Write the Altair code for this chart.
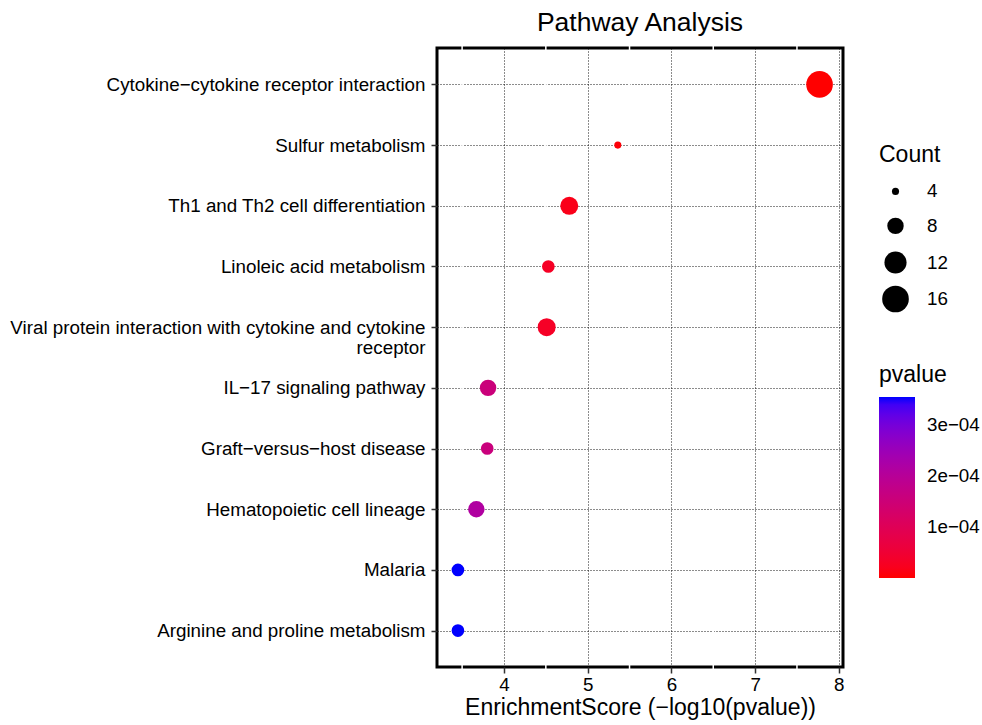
import altair as alt
import pandas as pd

pathways = [
    "Cytokine−cytokine receptor interaction",
    "Sulfur metabolism",
    "Th1 and Th2 cell differentiation",
    "Linoleic acid metabolism",
    "Viral protein interaction with cytokine and cytokine receptor",
    "IL−17 signaling pathway",
    "Graft−versus−host disease",
    "Hematopoietic cell lineage",
    "Malaria",
    "Arginine and proline metabolism",
]
scores = [7.77, 5.36, 4.78, 4.53, 4.51, 3.81, 3.80, 3.67, 3.45, 3.45]
counts = [16, 4, 9, 6, 9, 8, 6, 8, 6, 6]
pvalues = [1.7e-8, 4.4e-6, 1.66e-5, 2.95e-5, 3.09e-5, 1.55e-4, 1.58e-4, 2.14e-4, 3.55e-4, 3.55e-4]

x_ticks = [4, 5, 6, 7, 8]
x_minor = [3.5, 4.5, 5.5, 6.5, 7.5]
count_breaks = [4, 8, 12, 16]
p_breaks = [1e-4, 2e-4, 3e-4]

df = pd.DataFrame({"Pathway": pathways, "Score": scores, "Count": counts, "pvalue": pvalues})
minor_df = pd.DataFrame({"m": x_minor})

FONT = "Liberation Sans"
GRID = "#000000"

x_scale = alt.Scale(domain=[3.2, 8.05], nice=False, zero=False)

label_expr = (
    "datum.label == 'Viral protein interaction with cytokine and cytokine receptor' ? "
    "['Viral protein interaction with cytokine and cytokine', 'receptor'] : datum.label"
)

points = alt.Chart(df).mark_circle(opacity=1).encode(
    x=alt.X(
        "Score:Q",
        scale=x_scale,
        axis=alt.Axis(
            values=x_ticks,
            format="d",
            title="EnrichmentScore (−log10(pvalue))",
            grid=True,
            gridColor=GRID,
            gridOpacity=0.9,
            gridDash=[1, 2],
            gridWidth=1,
            tickColor="#333333",
            tickSize=6,
            tickWidth=1.5,
            domain=False,
            labelFontSize=18.8,
            labelColor="#000000",
            labelPadding=2,
            titleFontSize=23,
            titleFontWeight="normal",
            titleColor="#000000",
            titlePadding=3,
            labelFont=FONT,
            titleFont=FONT,
        ),
    ),
    y=alt.Y(
        "Pathway:N",
        sort=pathways,
        scale=alt.Scale(type="point", padding=0.6),
        axis=alt.Axis(
            title=None,
            grid=True,
            gridColor=GRID,
            gridOpacity=0.9,
            gridDash=[1, 2],
            gridWidth=1,
            tickColor="#333333",
            tickSize=6,
            tickWidth=1.5,
            domain=False,
            labelFontSize=18.8,
            labelColor="#000000",
            labelPadding=6,
            labelLimit=600,
            labelLineHeight=20,
            labelExpr=label_expr,
            labelFont=FONT,
        ),
    ),
    size=alt.Size(
        "Count:Q",
        scale=alt.Scale(domain=[4, 16], range=[50, 710], zero=False),
        legend=alt.Legend(
            title="Count",
            values=count_breaks,
            orient="none",
            legendX=442,
            legendY=96,
            symbolFillColor="black",
            symbolStrokeColor="black",
            symbolStrokeWidth=0,
            symbolOpacity=1,
            labelFontSize=18.8,
            labelColor="#000000",
            titleFontSize=23,
            titleFontWeight="normal",
            titleColor="#000000",
            titlePadding=15,
            labelOffset=18,
            rowPadding=7.5,
            gridAlign="all",
            symbolOffset=3,
            labelFont=FONT,
            titleFont=FONT,
        ),
    ),
    color=alt.Color(
        "pvalue:Q",
        scale=alt.Scale(domain=[min(pvalues), max(pvalues)], range=["#ff0000", "#0000ff"], interpolate="lab", zero=False, nice=False),
        legend=alt.Legend(
            title="pvalue",
            values=p_breaks,
            orient="none",
            legendX=442,
            legendY=316,
            gradientLength=181,
            gradientThickness=36,
            gradientStrokeWidth=0,
            labelExpr="replace(format(datum.value, '.0e'), 'e-', 'e−0')",
            labelFontSize=18.8,
            labelColor="#000000",
            labelOffset=12,
            titleFontSize=23,
            titleFontWeight="normal",
            titleColor="#000000",
            titlePadding=10,
            labelFont=FONT,
            titleFont=FONT,
        ),
    ),
)

minor = alt.Chart(minor_df).mark_rule(color="white", strokeWidth=1.5).encode(
    x=alt.X("m:Q", scale=x_scale),
    y=alt.value(-3),
    y2=alt.value(622),
)

chart = alt.layer(minor, points).properties(
    width=406,
    height=619,
    background="white",
    title=alt.TitleParams(
        "Pathway Analysis",
        fontSize=26.5,
        fontWeight="normal",
        color="#000000",
        font=FONT,
        anchor="middle",
        frame="group",
        baseline="alphabetic",
        offset=-13,
    ),
    padding={"left": 437, "top": 48, "right": 139, "bottom": 58},
    autosize=alt.AutoSizeParams(type="none"),
).configure_view(
    stroke="#000000", strokeWidth=3
)

chart.save("out.html", embed_options={"renderer": "svg", "actions": False})
